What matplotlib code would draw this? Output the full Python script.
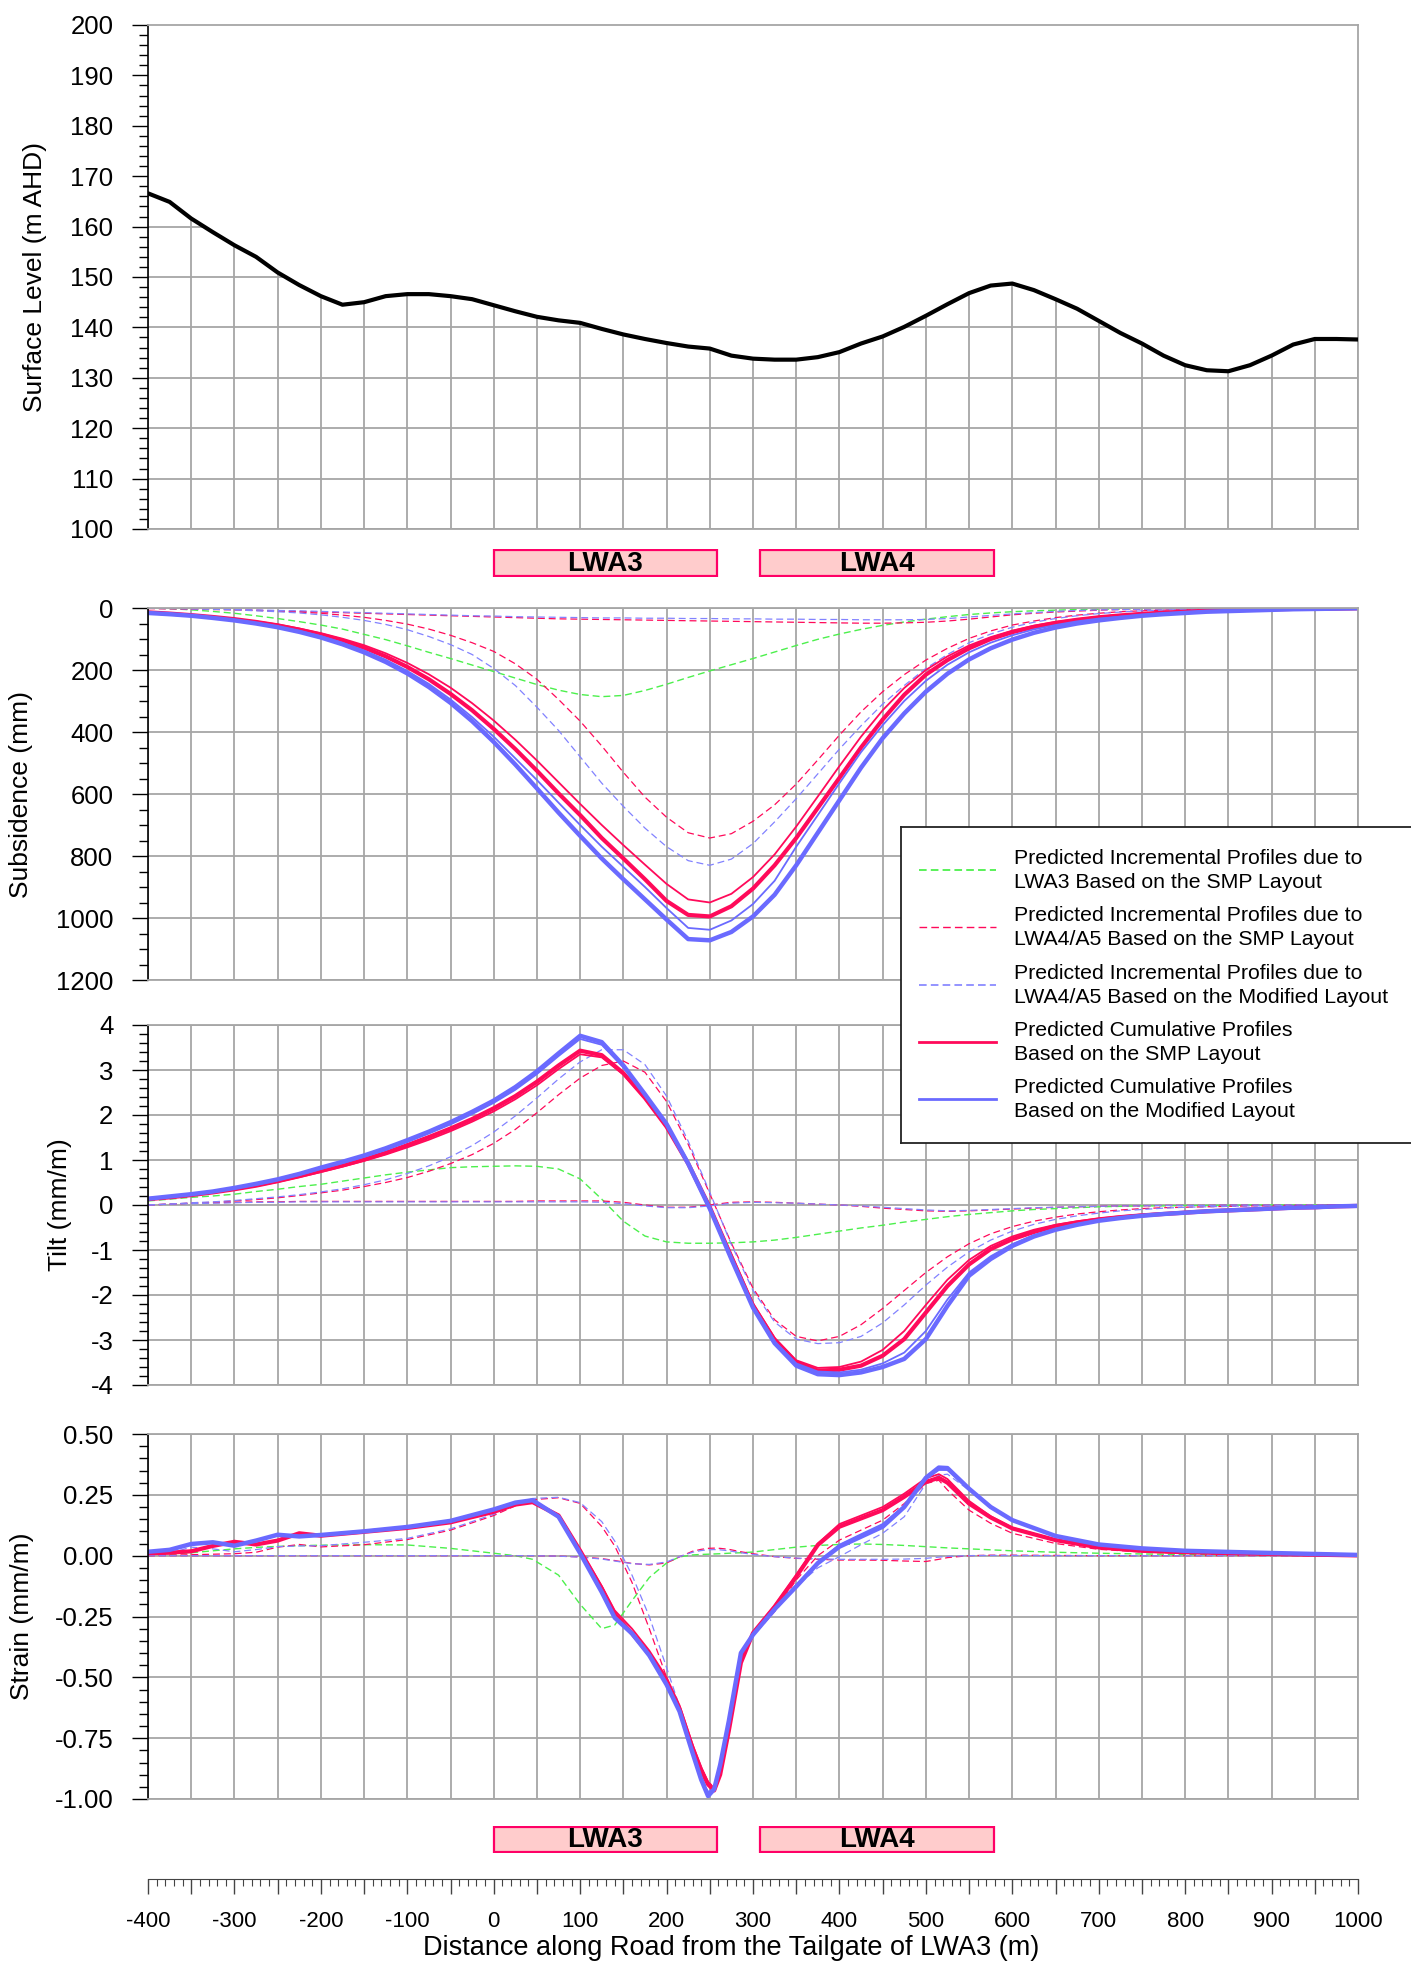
import matplotlib
matplotlib.use("Agg")
import matplotlib.pyplot as plt
from matplotlib.patches import Rectangle
from matplotlib.ticker import MultipleLocator, FuncFormatter, FormatStrFormatter

plt.rcParams['font.family'] = ['Liberation Sans', 'DejaVu Sans']
plt.rcParams['axes.unicode_minus'] = False
plt.rcParams['lines.scale_dashes'] = False

# ---------------- data ----------------
# distance along road (m), 25 m steps
x25 = [-400, -375, -350, -325, -300, -275, -250, -225, -200, -175, -150, -125, -100, -75, -50, -25,
       0, 25, 50, 75, 100, 125, 150, 175, 200, 225, 250, 275, 300, 325, 350, 375, 400, 425, 450,
       475, 500, 525, 550, 575, 600, 625, 650, 675, 700, 725, 750, 775, 800, 825, 850, 875, 900,
       925, 950, 975, 1000]

surface = [166.6, 164.9, 161.6, 158.9, 156.3, 154.0, 150.9, 148.4, 146.2, 144.5, 145.0, 146.2, 146.6,
           146.6, 146.2, 145.6, 144.4, 143.2, 142.1, 141.4, 140.9, 139.7, 138.6, 137.7, 136.9, 136.2,
           135.8, 134.4, 133.8, 133.6, 133.6, 134.1, 135.1, 136.8, 138.2, 140.1, 142.3, 144.6, 146.8,
           148.3, 148.7, 147.4, 145.6, 143.7, 141.3, 138.9, 136.8, 134.4, 132.5, 131.5, 131.3, 132.5,
           134.4, 136.6, 137.7, 137.7, 137.6]

# subsidence (mm)
sub_green = [0, 2, 6, 11, 17, 25, 34, 44, 55, 68, 85, 102, 122, 143, 163, 184, 205, 226, 247, 265,
             279, 286, 282, 266, 246, 224, 203, 183, 163, 142, 121, 101, 84, 69, 56, 45, 36, 28, 21,
             16, 12, 9, 7, 5, 4, 3, 2, 2, 1, 1, 1, 0, 0, 0, 0, 0, 0]
sub_red_small = [2, 3, 4, 5, 6, 8, 9, 11, 13, 15, 17, 19, 21, 23, 25, 27, 29, 31, 33, 35, 36, 37, 38,
                 39, 40, 41, 42, 43, 44, 45, 46, 47, 48, 49, 49, 48, 46, 42, 36, 29, 22, 17, 13, 10,
                 7, 5, 4, 3, 3, 2, 2, 1, 1, 1, 1, 0, 0]
sub_red_large = [0, 1, 2, 3, 5, 7, 10, 13, 17, 23, 30, 40, 52, 68, 88, 112, 140, 180, 230, 295, 365,
                 445, 530, 610, 675, 725, 742, 728, 688, 635, 568, 490, 410, 335, 270, 215, 168, 130,
                 98, 74, 55, 42, 31, 23, 17, 12, 9, 7, 5, 4, 3, 2, 2, 1, 1, 0, 0]
sub_blue_small = [1, 2, 3, 4, 5, 6, 8, 9, 11, 13, 15, 17, 19, 21, 23, 25, 26, 28, 29, 30, 31, 32, 32,
                  33, 33, 34, 34, 35, 35, 36, 36, 37, 37, 38, 38, 38, 37, 34, 29, 24, 19, 15, 11, 8,
                  6, 5, 4, 3, 2, 2, 1, 1, 1, 1, 0, 0, 0]
sub_blue_large = [0, 1, 2, 4, 6, 9, 12, 16, 22, 30, 40, 53, 70, 92, 118, 150, 195, 250, 320, 395, 480,
                  565, 640, 710, 770, 815, 830, 810, 760, 690, 615, 535, 455, 380, 310, 250, 195, 150,
                  112, 84, 62, 46, 34, 25, 18, 13, 9, 7, 5, 4, 3, 2, 1, 1, 1, 0, 0]
sub_red_thin = [14, 17, 22, 28, 35, 43, 53, 66, 81, 99, 120, 146, 177, 214, 257, 307, 363, 425, 492,
                562, 632, 700, 765, 828, 890, 940, 950, 922, 868, 795, 705, 608, 510, 415, 330, 258,
                200, 156, 121, 94, 73, 57, 45, 36, 28, 22, 17, 14, 11, 8, 6, 5, 4, 3, 2, 2, 1]
sub_red_thick = [14, 18, 23, 29, 36, 45, 56, 70, 86, 105, 128, 156, 190, 230, 277, 330, 390, 455, 525,
                 598, 668, 742, 808, 875, 945, 990, 995, 962, 905, 830, 742, 645, 548, 450, 360, 280,
                 215, 168, 130, 100, 78, 61, 48, 38, 30, 24, 19, 15, 12, 9, 7, 6, 4, 3, 3, 2, 1]
sub_blue_thin = [15, 19, 24, 31, 39, 48, 60, 74, 91, 112, 137, 167, 203, 245, 295, 352, 415, 485, 555,
                 628, 700, 770, 835, 900, 968, 1032, 1038, 1008, 955, 880, 770, 668, 565, 465, 378,
                 300, 235, 183, 143, 112, 88, 69, 55, 43, 34, 28, 22, 17, 14, 11, 8, 6, 5, 4, 3, 2, 1]
sub_blue_thick = [16, 20, 25, 32, 40, 50, 62, 77, 95, 117, 143, 174, 211, 255, 306, 365, 432, 505, 582,
                  660, 735, 808, 875, 940, 1005, 1068, 1072, 1045, 995, 925, 830, 725, 620, 515, 420,
                  340, 270, 212, 166, 130, 102, 80, 63, 50, 40, 32, 25, 20, 16, 12, 10, 8, 6, 4, 3, 2, 1]

# tilt (mm/m)
tilt_green = [0.09, 0.13, 0.17, 0.20, 0.24, 0.30, 0.35, 0.41, 0.46, 0.53, 0.60, 0.67, 0.73, 0.78, 0.83,
              0.85, 0.86, 0.87, 0.86, 0.80, 0.58, 0.13, -0.36, -0.69, -0.82, -0.85, -0.85, -0.84, -0.82,
              -0.78, -0.72, -0.65, -0.58, -0.51, -0.45, -0.38, -0.32, -0.26, -0.21, -0.17, -0.13, -0.10,
              -0.08, -0.06, -0.04, -0.03, -0.02, -0.02, -0.01, -0.01, -0.01, 0, 0, 0, 0, 0, 0]
tilt_red_small = [0.0, 0.02, 0.04, 0.05, 0.06, 0.07, 0.07, 0.08, 0.08, 0.08, 0.08, 0.08, 0.08, 0.08,
                  0.08, 0.08, 0.08, 0.08, 0.09, 0.09, 0.09, 0.09, 0.06, 0.00, -0.05, -0.05, 0.00, 0.06,
                  0.07, 0.06, 0.04, 0.02, 0.00, -0.03, -0.07, -0.10, -0.13, -0.14, -0.13, -0.11, -0.09,
                  -0.07, -0.05, -0.04, -0.03, -0.02, -0.02, -0.01, -0.01, -0.01, 0, 0, 0, 0, 0, 0, 0]
tilt_red_large = [0.0, 0.02, 0.04, 0.06, 0.09, 0.12, 0.16, 0.21, 0.27, 0.33, 0.41, 0.50, 0.61, 0.75,
                  0.92, 1.12, 1.37, 1.68, 2.05, 2.45, 2.82, 3.10, 3.20, 2.95, 2.30, 1.35, 0.25, -0.85,
                  -1.85, -2.55, -2.92, -3.02, -2.92, -2.66, -2.30, -1.90, -1.50, -1.15, -0.86, -0.64,
                  -0.48, -0.36, -0.27, -0.20, -0.15, -0.11, -0.08, -0.06, -0.05, -0.04, -0.03, -0.02,
                  -0.02, -0.01, -0.01, 0, 0]
tilt_blue_small = [0.0, 0.02, 0.03, 0.04, 0.05, 0.06, 0.06, 0.07, 0.07, 0.07, 0.07, 0.07, 0.07, 0.07,
                   0.07, 0.07, 0.07, 0.07, 0.07, 0.07, 0.07, 0.06, 0.03, -0.02, -0.06, -0.06, -0.02, 0.04,
                   0.06, 0.05, 0.04, 0.02, 0.00, -0.02, -0.05, -0.08, -0.11, -0.13, -0.12, -0.10, -0.08,
                   -0.06, -0.05, -0.04, -0.03, -0.02, -0.02, -0.01, -0.01, -0.01, 0, 0, 0, 0, 0, 0, 0]
tilt_blue_large = [0.0, 0.02, 0.05, 0.07, 0.10, 0.14, 0.18, 0.23, 0.29, 0.36, 0.45, 0.56, 0.70, 0.87,
                   1.07, 1.32, 1.62, 1.98, 2.38, 2.80, 3.18, 3.45, 3.45, 3.12, 2.42, 1.42, 0.28, -0.88,
                   -1.90, -2.60, -2.98, -3.08, -3.06, -2.92, -2.62, -2.22, -1.78, -1.38, -1.04, -0.78,
                   -0.58, -0.43, -0.32, -0.24, -0.18, -0.13, -0.10, -0.07, -0.05, -0.04, -0.03, -0.02,
                   -0.02, -0.01, -0.01, 0, 0]
tilt_red_thin = [0.13, 0.17, 0.21, 0.27, 0.34, 0.42, 0.51, 0.62, 0.73, 0.85, 0.98, 1.12, 1.28, 1.45,
                 1.64, 1.85, 2.08, 2.35, 2.66, 3.02, 3.35, 3.28, 2.90, 2.36, 1.72, 0.92, -0.03, -1.10,
                 -2.18, -2.95, -3.45, -3.62, -3.60, -3.48, -3.22, -2.80, -2.22, -1.66, -1.22, -0.91,
                 -0.70, -0.55, -0.44, -0.36, -0.30, -0.25, -0.21, -0.18, -0.15, -0.13, -0.11, -0.09,
                 -0.07, -0.06, -0.04, -0.03, -0.02]
tilt_red_thick = [0.13, 0.17, 0.22, 0.28, 0.35, 0.43, 0.53, 0.64, 0.76, 0.88, 1.01, 1.16, 1.33, 1.51,
                  1.70, 1.91, 2.15, 2.42, 2.74, 3.10, 3.43, 3.33, 2.93, 2.38, 1.74, 0.92, -0.05, -1.15,
                  -2.24, -3.00, -3.50, -3.68, -3.66, -3.57, -3.35, -2.98, -2.39, -1.80, -1.32, -0.98,
                  -0.76, -0.60, -0.47, -0.39, -0.32, -0.27, -0.23, -0.20, -0.17, -0.14, -0.12, -0.10,
                  -0.08, -0.06, -0.05, -0.03, -0.02]
tilt_blue_thin = [0.14, 0.18, 0.23, 0.29, 0.37, 0.45, 0.55, 0.67, 0.80, 0.93, 1.07, 1.22, 1.40, 1.59,
                  1.79, 2.02, 2.27, 2.56, 2.91, 3.31, 3.69, 3.56, 3.06, 2.44, 1.78, 0.92, -0.07, -1.18,
                  -2.25, -3.03, -3.52, -3.70, -3.72, -3.66, -3.52, -3.28, -2.80, -2.10, -1.50, -1.14,
                  -0.87, -0.67, -0.53, -0.42, -0.34, -0.28, -0.23, -0.19, -0.16, -0.13, -0.11, -0.09,
                  -0.07, -0.06, -0.04, -0.03, -0.02]
tilt_blue_thick = [0.14, 0.19, 0.24, 0.30, 0.38, 0.47, 0.57, 0.69, 0.83, 0.96, 1.10, 1.26, 1.44, 1.63,
                   1.84, 2.07, 2.32, 2.62, 2.97, 3.37, 3.76, 3.62, 3.10, 2.46, 1.80, 0.92, -0.08, -1.20,
                   -2.28, -3.07, -3.57, -3.76, -3.78, -3.72, -3.60, -3.42, -2.98, -2.24, -1.57, -1.20,
                   -0.91, -0.70, -0.55, -0.44, -0.35, -0.29, -0.24, -0.20, -0.17, -0.14, -0.12, -0.10,
                   -0.08, -0.06, -0.05, -0.03, -0.02]

# strain (mm/m), sampled closer around the trough
xs = [-400, -375, -350, -325, -300, -275, -250, -225, -200, -150, -100, -50, 0, 25, 45, 75, 100, 125,
      140, 160, 180, 200, 215, 230, 240, 248, 255, 262, 272, 286, 300, 325, 350, 375, 400, 425, 450,
      475, 500, 515, 525, 550, 575, 600, 650, 700, 750, 800, 900, 1000]
str_green = [0.0, 0.005, 0.012, 0.020, 0.028, 0.034, 0.038, 0.041, 0.043, 0.045, 0.044, 0.030, 0.010,
             0.0, -0.015, -0.080, -0.200, -0.300, -0.285, -0.185, -0.090, -0.030, -0.005, 0.003, 0.005,
             0.006, 0.007, 0.008, 0.010, 0.012, 0.015, 0.025, 0.035, 0.042, 0.046, 0.048, 0.046, 0.042,
             0.037, 0.034, 0.032, 0.028, 0.024, 0.020, 0.014, 0.010, 0.007, 0.005, 0.002, 0.0]
str_red_small = [0, 0, 0, 0, 0, 0, 0, 0, 0, 0, 0, 0, 0.0, 0.0, 0.0, -0.002, -0.005, -0.012, -0.020,
                 -0.032, -0.038, -0.030, -0.005, 0.018, 0.026, 0.030, 0.031, 0.030, 0.026, 0.016, 0.008,
                 -0.004, -0.011, -0.015, -0.018, -0.018, -0.019, -0.022, -0.024, -0.015, -0.008, 0.0,
                 0.002, 0.002, 0.001, 0, 0, 0, 0, 0]
str_red_large = [0.0, 0.002, 0.004, 0.006, 0.008, 0.014, 0.035, 0.046, 0.036, 0.045, 0.066, 0.105,
                 0.165, 0.205, 0.230, 0.238, 0.215, 0.120, 0.040, -0.110, -0.300, -0.500, -0.630,
                 -0.790, -0.870, -0.930, -0.950, -0.880, -0.700, -0.430, -0.330, -0.230, -0.100, 0.000,
                 0.064, 0.105, 0.146, 0.214, 0.296, 0.310, 0.270, 0.187, 0.133, 0.092, 0.050, 0.026,
                 0.015, 0.010, 0.004, 0.0]
str_blue_small = [0, 0, 0, 0, 0, 0, 0, 0, 0, 0, 0, 0, 0.0, 0.0, 0.0, -0.002, -0.006, -0.014, -0.022,
                  -0.033, -0.036, -0.026, -0.004, 0.014, 0.021, 0.024, 0.025, 0.024, 0.020, 0.012,
                  0.005, -0.004, -0.010, -0.013, -0.015, -0.015, -0.015, -0.014, -0.011, -0.006,
                  -0.003, 0.0, 0.001, 0.001, 0.0, 0, 0, 0, 0, 0]
str_blue_large = [0.0, 0.010, 0.035, 0.028, 0.016, 0.025, 0.037, 0.040, 0.041, 0.055, 0.071, 0.110,
                  0.170, 0.210, 0.235, 0.240, 0.218, 0.140, 0.060, -0.080, -0.250, -0.460, -0.620,
                  -0.800, -0.900, -0.970, -0.950, -0.860, -0.680, -0.410, -0.330, -0.230, -0.127,
                  -0.050, -0.004, 0.045, 0.092, 0.160, 0.296, 0.330, 0.335, 0.269, 0.200, 0.146, 0.080,
                  0.045, 0.028, 0.018, 0.010, 0.003]
str_red_thin = [0.010, 0.012, 0.018, 0.040, 0.058, 0.048, 0.063, 0.090, 0.083, 0.100, 0.116, 0.140,
                0.183, 0.212, 0.222, 0.168, 0.025, -0.125, -0.225, -0.300, -0.390, -0.500, -0.615,
                -0.775, -0.870, -0.930, -0.955, -0.890, -0.710, -0.430, -0.315, -0.205, -0.080, 0.050,
                0.130, 0.165, 0.200, 0.255, 0.318, 0.335, 0.315, 0.225, 0.162, 0.115, 0.066, 0.035,
                0.021, 0.014, 0.007, 0.001]
str_red_thick = [0.010, 0.012, 0.018, 0.040, 0.057, 0.046, 0.062, 0.092, 0.082, 0.098, 0.114, 0.137,
                 0.180, 0.210, 0.220, 0.165, 0.020, -0.135, -0.240, -0.320, -0.405, -0.520, -0.630,
                 -0.790, -0.880, -0.940, -0.965, -0.900, -0.720, -0.440, -0.318, -0.210, -0.086, 0.044,
                 0.119, 0.153, 0.187, 0.242, 0.303, 0.320, 0.300, 0.214, 0.157, 0.112, 0.064, 0.034,
                 0.020, 0.014, 0.007, 0.001]
str_blue_thin = [0.016, 0.024, 0.046, 0.053, 0.042, 0.060, 0.083, 0.079, 0.084, 0.099, 0.117, 0.141,
                 0.187, 0.215, 0.226, 0.162, 0.014, -0.145, -0.250, -0.315, -0.405, -0.525, -0.635,
                 -0.800, -0.910, -0.975, -0.955, -0.860, -0.685, -0.405, -0.325, -0.218, -0.120, -0.025,
                 0.045, 0.088, 0.130, 0.205, 0.315, 0.352, 0.352, 0.272, 0.198, 0.144, 0.080, 0.045,
                 0.029, 0.019, 0.010, 0.003]
str_blue_thick = [0.016, 0.024, 0.048, 0.055, 0.041, 0.062, 0.086, 0.079, 0.085, 0.100, 0.118, 0.143,
                  0.190, 0.218, 0.228, 0.160, 0.010, -0.150, -0.255, -0.320, -0.410, -0.530, -0.640,
                  -0.810, -0.920, -0.988, -0.960, -0.860, -0.680, -0.400, -0.325, -0.220, -0.127,
                  -0.031, 0.037, 0.078, 0.119, 0.200, 0.320, 0.362, 0.360, 0.275, 0.200, 0.146, 0.081,
                  0.046, 0.030, 0.020, 0.011, 0.003]

panels = ["LWA3", "LWA4"]
panel_spans = [(0, 258), (308, 579)]

legend_labels = [
    ("Predicted Incremental Profiles due to", "LWA3 Based on the SMP Layout"),
    ("Predicted Incremental Profiles due to", "LWA4/A5 Based on the SMP Layout"),
    ("Predicted Incremental Profiles due to", "LWA4/A5 Based on the Modified Layout"),
    ("Predicted Cumulative Profiles", "Based on the SMP Layout"),
    ("Predicted Cumulative Profiles", "Based on the Modified Layout"),
]

# ---------------- styles ----------------
GREEN = "#4cf04c"
RED = "#ff0a5a"
BLUE_D = "#8282ff"
BLUE = "#6a6aff"
GRID = "#a6a6a6"
DASH = (5, 2.8)

W, H = 1411, 1962
fig = plt.figure(figsize=(W / 100, H / 100), dpi=100)


def axes_px(left, top, right, bottom):
    return fig.add_axes([left / W, 1 - bottom / H, (right - left) / W, (bottom - top) / H])


def style_panel(ax, ymin, ymax, major, minor, invert=False, fmt=None):
    ax.set_xlim(-400, 1000)
    if invert:
        ax.set_ylim(ymax, ymin)
    else:
        ax.set_ylim(ymin, ymax)
    ax.xaxis.set_major_locator(MultipleLocator(50))
    ax.yaxis.set_major_locator(MultipleLocator(major))
    ax.yaxis.set_minor_locator(MultipleLocator(minor))
    if fmt:
        ax.yaxis.set_major_formatter(FormatStrFormatter(fmt))
    ax.tick_params(axis='x', length=0, labelbottom=False)
    ax.tick_params(axis='y', which='major', direction='out', length=11.5, width=1.0,
                   labelsize=18.5, pad=13.5)
    ax.tick_params(axis='y', which='minor', direction='out', length=6.5, width=1.0)
    ax.set_axisbelow(True)
    ax.grid(True, which='major', color=GRID, lw=1.3)
    for s in ['top', 'right', 'bottom']:
        ax.spines[s].set_color(GRID)
        ax.spines[s].set_linewidth(1.3)
    ax.spines['left'].set_color('black')
    ax.spines['left'].set_linewidth(1.2)


def draw_profiles(ax, x, green, red_s, red_l, blue_s, blue_l, red_thin, red_thick, blue_thin, blue_thick):
    ax.plot(x, green, color=GREEN, lw=1.0, dashes=DASH)
    ax.plot(x, red_s, color=RED, lw=0.9, dashes=DASH)
    ax.plot(x, red_l, color=RED, lw=0.9, dashes=DASH)
    ax.plot(x, blue_s, color=BLUE_D, lw=0.9, dashes=DASH)
    ax.plot(x, blue_l, color=BLUE_D, lw=0.9, dashes=DASH)
    ax.plot(x, red_thin, color=RED, lw=1.3)
    ax.plot(x, red_thick, color=RED, lw=3.0)
    ax.plot(x, blue_thin, color=BLUE, lw=1.3)
    ax.plot(x, blue_thick, color=BLUE, lw=3.2)


def draw_panels(ax):
    ax.set_xlim(-400, 1000)
    ax.set_ylim(0, 1)
    ax.axis('off')
    for name, (a, b) in zip(panels, panel_spans):
        ax.add_patch(Rectangle((a, 0.02), b - a, 0.96, facecolor='#ffcccc', edgecolor='#ff0066', lw=1.6))
        ax.text((a + b) / 2, 0.47, name, ha='center', va='center', fontsize=20, fontweight='bold')


# surface level
ax0 = axes_px(148, 25, 1358, 529)
style_panel(ax0, 100, 200, 10, 2)
ax0.fill_between(x25, surface, 200, color='white', zorder=1)
ax0.plot(x25, surface, color='black', lw=3.0, zorder=3)

draw_panels(axes_px(148, 549, 1358, 577))

# subsidence
ax1 = axes_px(148, 608, 1358, 980)
style_panel(ax1, 0, 1200, 200, 50, invert=True)
draw_profiles(ax1, x25, sub_green, sub_red_small, sub_red_large, sub_blue_small, sub_blue_large,
              sub_red_thin, sub_red_thick, sub_blue_thin, sub_blue_thick)

# tilt
ax2 = axes_px(148, 1025, 1358, 1385)
style_panel(ax2, -4, 4, 1, 0.2)
draw_profiles(ax2, x25, tilt_green, tilt_red_small, tilt_red_large, tilt_blue_small, tilt_blue_large,
              tilt_red_thin, tilt_red_thick, tilt_blue_thin, tilt_blue_thick)

# strain
ax3 = axes_px(148, 1434, 1358, 1799)
style_panel(ax3, -1.0, 0.5, 0.25, 0.05, fmt='%.2f')
draw_profiles(ax3, xs, str_green, str_red_small, str_red_large, str_blue_small, str_blue_large,
              str_red_thin, str_red_thick, str_blue_thin, str_blue_thick)

draw_panels(axes_px(148, 1826, 1358, 1853))

# distance axis
axb = axes_px(148, 1870, 1358, 1879)
axb.set_xlim(-400, 1000)
axb.set_yticks([])
axb.patch.set_alpha(0)
for s in ['top', 'left', 'right']:
    axb.spines[s].set_visible(False)
axb.spines['bottom'].set_color('#444444')
axb.xaxis.set_major_locator(MultipleLocator(50))
axb.xaxis.set_minor_locator(MultipleLocator(10))
axb.xaxis.set_major_formatter(FuncFormatter(lambda v, p: f"{int(round(v))}" if round(v) % 100 == 0 else ""))
axb.tick_params(axis='x', which='major', length=10.8, width=1.0, color='#444444', labelsize=16, pad=12.5)
axb.tick_params(axis='x', which='minor', length=5, width=0.8, color='#444444')

fig.text(731 / W, 1 - 1948 / H, "Distance along Road from the Tailgate of LWA3 (m)",
         ha='center', va='center', fontsize=19.5)

# axis titles
for label, px, py in [("Surface Level (m AHD)", 35, 277), ("Subsidence (mm)", 21, 794),
                      ("Tilt (mm/m)", 60, 1205), ("Strain (mm/m)", 22.5, 1616)]:
    fig.text(px / W, 1 - py / H, label, rotation=90, ha='center', va='center', fontsize=19)

# legend box (runs off the right edge like the original)
lax = axes_px(901, 827, 1430, 1143)
lax.set_zorder(10)
lax.set_xlim(901, 1430)
lax.set_ylim(1143, 827)
lax.set_xticks([])
lax.set_yticks([])
lax.set_facecolor('white')
for s in lax.spines.values():
    s.set_color('#222222')
    s.set_linewidth(1.3)
legend_styles = [dict(color=GREEN, lw=1.3, dashes=(5.5, 3)),
                 dict(color=RED, lw=1.0, dashes=(5.5, 3)),
                 dict(color=BLUE_D, lw=1.2, dashes=(5.5, 3)),
                 dict(color=RED, lw=2.0),
                 dict(color=BLUE, lw=2.0)]
line_y = [870, 927, 985, 1042, 1099]
for (l1, l2), st, yy in zip(legend_labels, legend_styles, line_y):
    lax.plot([919, 996], [yy, yy], **st)
    lax.text(1014, yy - 11.5, l1, ha='left', va='center', fontsize=15.3)
    lax.text(1014, yy + 12.5, l2, ha='left', va='center', fontsize=15.3)

fig.savefig("out.png", dpi=100)
